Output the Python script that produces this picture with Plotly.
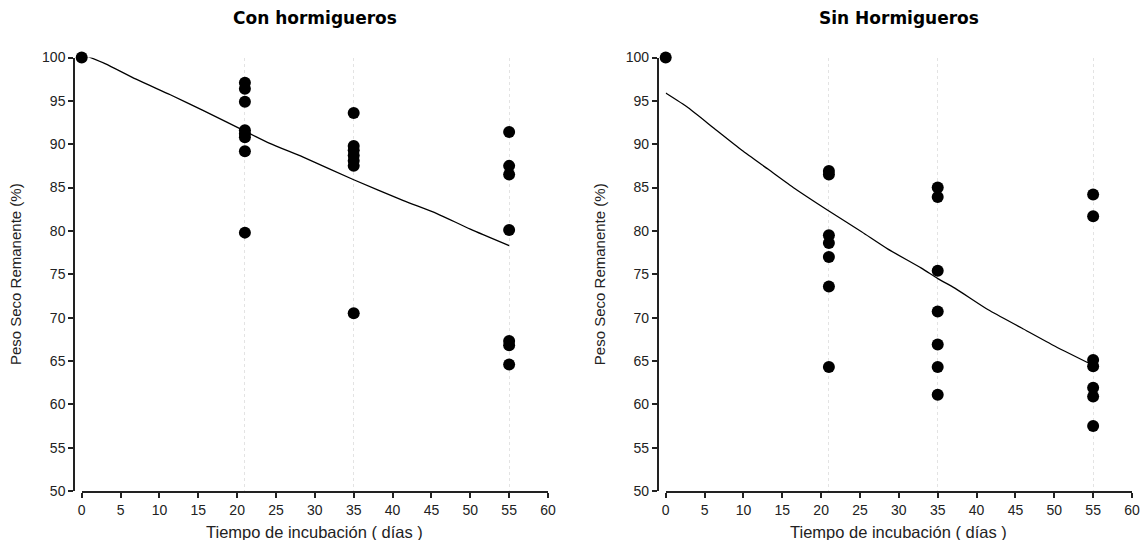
import plotly.graph_objects as go

# ---- data ----
dias = [0, 21, 35, 55]
con_x = [0,
         21, 21, 21, 21, 21, 21, 21, 21,
         35, 35, 35, 35, 35, 35, 35,
         55, 55, 55, 55, 55, 55, 55]
con_y = [100,
         97.1, 96.4, 94.9, 91.6, 91.2, 90.8, 89.2, 79.8,
         93.6, 89.8, 89.3, 88.7, 88.1, 87.5, 70.5,
         91.4, 87.5, 86.5, 80.1, 67.3, 66.8, 64.6]
# fitted curve
con_fit_x = [0, 3, 7, 11.4, 15.6, 21, 24.2, 28.5, 35, 41.4, 45.7, 50, 55]
con_fit_y = [100.4, 99.3, 97.5, 95.7, 93.9, 91.5, 90.1, 88.5, 85.9, 83.5, 82.0, 80.2, 78.3]

sin_x = [0,
         21, 21, 21, 21, 21, 21, 21,
         35, 35, 35, 35, 35, 35, 35,
         55, 55, 55, 55, 55, 55, 55]
sin_y = [100,
         86.9, 86.5, 79.5, 78.6, 77.0, 73.6, 64.3,
         85.0, 83.9, 75.4, 70.7, 66.9, 64.3, 61.1,
         84.2, 81.7, 65.1, 64.4, 61.9, 60.9, 57.5]
sin_fit_x = [0, 2.9, 6.4, 9.8, 13.2, 16.6, 21, 25.2, 28.6, 32.9, 35, 37.2, 41.5, 45.8, 50.1, 55]
sin_fit_y = [95.9, 94.2, 91.7, 89.3, 87.1, 84.9, 82.3, 79.9, 77.9, 75.7, 74.5, 73.4, 70.9, 68.8, 66.7, 64.5]

x_ticks = [0, 5, 10, 15, 20, 25, 30, 35, 40, 45, 50, 55, 60]
y_ticks = [50, 55, 60, 65, 70, 75, 80, 85, 90, 95, 100]

titles = ["Con hormigueros", "Sin Hormigueros"]
x_title = "Tiempo de incubación ( días )"
y_title = "Peso Seco Remanente (%)"

W, H = 1142, 540
FONT = "Liberation Sans, Arial, sans-serif"
TXT = "#222222"

fig = go.Figure()

for i, (xs, ys, fx, fy) in enumerate([(con_x, con_y, con_fit_x, con_fit_y),
                                       (sin_x, sin_y, sin_fit_x, sin_fit_y)]):
    xa = "x" if i == 0 else "x2"
    ya = "y" if i == 0 else "y2"
    fig.add_trace(go.Scatter(x=fx, y=fy, mode="lines", xaxis=xa, yaxis=ya,
                             line=dict(color="black", width=1.3, shape="spline", smoothing=0.6),
                             showlegend=False, hoverinfo="skip"))
    fig.add_trace(go.Scatter(x=xs, y=ys, mode="markers", xaxis=xa, yaxis=ya,
                             marker=dict(color="black", size=12),
                             cliponaxis=False, showlegend=False))

# pixel geometry
left_x0, left_x1, left_yaxis = 81.7, 548.0, 74.0
right_x0, right_x1, right_yaxis = 665.7, 1132.0, 657.7
y_top, y_bot = 57.5, 491.0
title_y = 18
xtitle_y = 532

def xaxis_cfg(d0, d1, anchor):
    return dict(domain=[d0 / W, d1 / W], range=[0, 60], anchor=anchor, automargin=False,
                tickvals=x_ticks, ticks="outside", ticklen=5, tickwidth=1.5,
                tickcolor="#222", showline=True, linecolor="#222", linewidth=1.5,
                showgrid=False, zeroline=False, ticklabeloverflow="allow",
                tickfont=dict(family=FONT, size=14, color=TXT),
                minor=dict(tickvals=dias[1:], showgrid=True, gridcolor="#e3e3e3",
                           griddash="dot", gridwidth=1, ticklen=0))

def yaxis_cfg(pos):
    return dict(domain=[(H - y_bot) / H, (H - y_top) / H], range=[50, 100],
                anchor="free", position=pos / W, automargin=False,
                tickvals=y_ticks, ticks="outside", ticklen=5, tickwidth=1.5,
                tickcolor="#222", showline=True, linecolor="#222", linewidth=1.5,
                showgrid=False, zeroline=False,
                tickfont=dict(family=FONT, size=14, color=TXT),
                title=dict(text=y_title, font=dict(family=FONT, size=15, color=TXT),
                           standoff=16))

annotations = []
for t, (a, b) in zip(titles, [(left_x0, left_x1), (right_x0, right_x1)]):
    annotations.append(dict(text="<b>" + t + "</b>", x=(a + b) / 2 / W, y=1 - title_y / H,
                            xref="paper", yref="paper", showarrow=False,
                            xanchor="center", yanchor="middle",
                            font=dict(family="DejaVu Sans", size=17, color="black")))
    annotations.append(dict(text=x_title, x=(a + b) / 2 / W, y=1 - xtitle_y / H,
                            xref="paper", yref="paper", showarrow=False,
                            xanchor="center", yanchor="middle",
                            font=dict(family=FONT, size=16.5, color=TXT)))

fig.update_layout(
    width=W, height=H,
    margin=dict(l=0, r=0, t=0, b=0, autoexpand=False),
    paper_bgcolor="white", plot_bgcolor="white",
    xaxis=xaxis_cfg(left_x0, left_x1, "y"),
    yaxis=yaxis_cfg(left_yaxis),
    xaxis2=xaxis_cfg(right_x0, right_x1, "y2"),
    yaxis2=yaxis_cfg(right_yaxis),
    annotations=annotations,
)

fig.write_html("out.html", config={"displayModeBar": False},
               post_script="document.body.style.margin='0';document.body.style.overflow='hidden';")
